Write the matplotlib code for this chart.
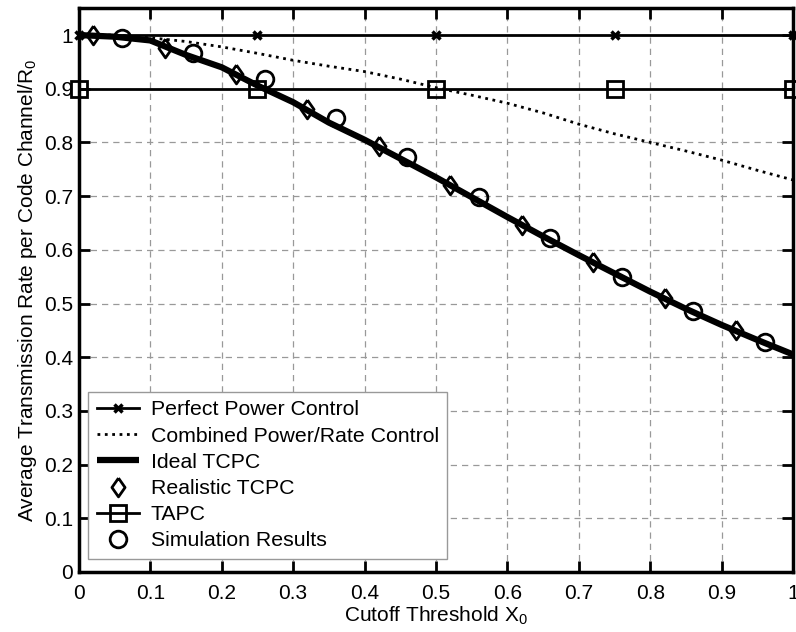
import matplotlib
matplotlib.use('Agg')
import matplotlib.pyplot as plt
import numpy as np

plt.rcParams['font.family'] = ['Liberation Sans', 'DejaVu Sans']
plt.rcParams['mathtext.fontset'] = 'custom'
plt.rcParams['mathtext.rm'] = 'Liberation Sans'
plt.rcParams['mathtext.default'] = 'regular'

# reference curves
x_const = [0, 0.25, 0.5, 0.75, 1.0]
y_perfect = [1.0, 1.0, 1.0, 1.0, 1.0]
y_tapc = [0.9, 0.9, 0.9, 0.9, 0.9]

x_curve = [0, 0.05, 0.1, 0.15, 0.2, 0.25, 0.3, 0.35, 0.4, 0.45, 0.5,
           0.55, 0.6, 0.65, 0.7, 0.75, 0.8, 0.85, 0.9, 0.95, 1.0]
y_combined = [1.0, 1.0, 0.995, 0.988, 0.978, 0.966, 0.953, 0.942, 0.932, 0.918, 0.902,
              0.888, 0.873, 0.855, 0.834, 0.816, 0.800, 0.784, 0.767, 0.748, 0.730]
y_ideal = [1.0, 0.997, 0.99, 0.963, 0.94, 0.906, 0.875, 0.837, 0.805, 0.77, 0.735,
           0.698, 0.661, 0.625, 0.59, 0.556, 0.522, 0.49, 0.46, 0.432, 0.405]

x_diamond = [0.02, 0.12, 0.22, 0.32, 0.42, 0.52, 0.62, 0.72, 0.82, 0.92]
y_diamond = [1.0, 0.975, 0.928, 0.863, 0.793, 0.72, 0.647, 0.578, 0.51, 0.45]

x_sim = [0.06, 0.16, 0.26, 0.36, 0.46, 0.56, 0.66, 0.76, 0.86, 0.96]
y_sim = [0.995, 0.967, 0.918, 0.846, 0.772, 0.698, 0.622, 0.55, 0.486, 0.428]

tick_labels = ['0', '0.1', '0.2', '0.3', '0.4', '0.5', '0.6', '0.7', '0.8', '0.9', '1']

# matlab-like diamond, a bit narrower than wide 'D'
diamond = [(0, 1), (0.7, 0), (0, -1), (-0.7, 0), (0, 1)]

fig = plt.figure(figsize=(7.96, 6.32), dpi=100)
ax = fig.add_axes([0.099, 0.095, 0.8975, 0.892])

ax.plot(x_const, y_perfect, 'k-', lw=2, marker='x', ms=6, mew=2.5,
        label='Perfect Power Control', clip_on=False, zorder=3)
ax.plot(x_curve, y_combined, 'k:', lw=2, label='Combined Power/Rate Control')
ax.plot(x_curve, y_ideal, 'k-', lw=4.5, solid_capstyle='butt', label='Ideal TCPC')
ax.plot(x_diamond, y_diamond, color='k', marker=diamond, ms=13.5, mew=2, mfc='none',
        linestyle='none', label='Realistic TCPC', clip_on=False)
ax.plot(x_const, y_tapc, 'k-', lw=2, marker='s', ms=11, mew=2, mfc='none',
        label='TAPC', clip_on=False, zorder=3)
ax.plot(x_sim, y_sim, 'ko', ms=12, mew=2, mfc='none', linestyle='none',
        label='Simulation Results')

ax.set_xlim(0, 1)
ax.set_ylim(0, 1.05)
ax.set_xticks(np.arange(0, 1.01, 0.1))
ax.set_xticklabels(tick_labels)
ax.set_yticks(np.arange(0, 1.01, 0.1))
ax.set_yticklabels(tick_labels)
ax.tick_params(direction='in', length=8, width=2, top=True, right=True, labelsize=15)
ax.tick_params(axis='x', pad=9)
ax.tick_params(axis='y', pad=4)
for s in ax.spines.values():
    s.set_linewidth(2.5)
ax.grid(True, color='#999999', linestyle=(0, (5, 4)), linewidth=0.9)

ax.set_xlabel('Cutoff Threshold X$_0$', fontsize=15, labelpad=1)
ax.set_ylabel('Average Transmission Rate per Code Channel/R$_0$', fontsize=15, labelpad=4)

leg = ax.legend(loc='lower left', bbox_to_anchor=(0.013, 0.023), fontsize=15.3,
                fancybox=False, framealpha=1, edgecolor='#999999',
                handlelength=2.0, handletextpad=0.55, labelspacing=0.34,
                borderpad=0.4, borderaxespad=0)
leg.get_frame().set_linewidth(1)

fig.savefig('out.png', dpi=100)
